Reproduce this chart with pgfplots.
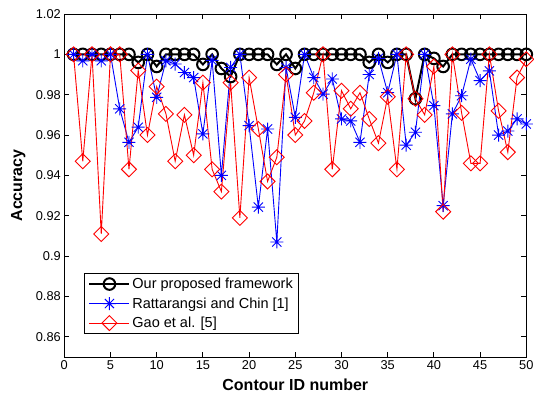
\documentclass[border=0pt]{standalone}
\usepackage{pgfplots}
\pgfplotsset{compat=1.18}
\usepackage{fontspec}
\setmainfont{Liberation Sans}
\pgfdeclareplotmark{star8}{%
  \pgfpathmoveto{\pgfqpoint{-\pgfplotmarksize}{0pt}}\pgfpathlineto{\pgfqpoint{\pgfplotmarksize}{0pt}}%
  \pgfpathmoveto{\pgfqpoint{0pt}{-\pgfplotmarksize}}\pgfpathlineto{\pgfqpoint{0pt}{\pgfplotmarksize}}%
  \pgfpathmoveto{\pgfqpoint{-0.707\pgfplotmarksize}{-0.707\pgfplotmarksize}}\pgfpathlineto{\pgfqpoint{0.707\pgfplotmarksize}{0.707\pgfplotmarksize}}%
  \pgfpathmoveto{\pgfqpoint{-0.707\pgfplotmarksize}{0.707\pgfplotmarksize}}\pgfpathlineto{\pgfqpoint{0.707\pgfplotmarksize}{-0.707\pgfplotmarksize}}%
  \pgfusepathqstroke}
\pgfplotstableread{
x y
1 1
2 1
3 1
4 1
5 1
6 1
7 1
8 0.996
9 1
10 0.994
11 1
12 1
13 1
14 1
15 0.995
16 1
17 0.993
18 0.989
19 1
20 1
21 1
22 1
23 0.995
24 1
25 0.993
26 1
27 1
28 1
29 1
30 1
31 1
32 1
33 0.996
34 1
35 0.996
36 1
37 1
38 0.978
39 1
40 0.998
41 0.994
42 1
43 1
44 1
45 1
46 1
47 1
48 1
49 1
50 1
}\ours
\pgfplotstableread{
x y
1 1
2 0.9968
3 1
4 0.9968
5 1
6 0.973
7 0.9564
8 0.9639
9 1
10 0.9787
11 0.9968
12 0.9952
13 0.991
14 0.9885
15 0.9606
16 0.997
17 0.940
18 0.9935
19 1
20 0.9647
21 0.9243
22 0.963
23 0.907
24 0.9935
25 0.9688
26 1
27 0.9885
28 0.9803
29 0.9878
30 0.968
31 0.967
32 0.9564
33 0.990
34 0.998
35 0.981
36 1
37 0.955
38 0.9614
39 1
40 0.9746
41 0.925
42 0.9705
43 0.9795
44 0.9976
45 0.987
46 0.9918
47 0.960
48 0.962
49 0.968
50 0.9655
}\ratta
\pgfplotstableread{
x y
1 1
2 0.947
3 1
4 0.911
5 1
6 1
7 0.943
8 0.992
9 0.960
10 0.984
11 0.9705
12 0.947
13 0.970
14 0.950
15 0.986
16 0.943
17 0.932
18 0.986
19 0.919
20 0.9885
21 0.963
22 0.937
23 0.949
24 0.990
25 0.960
26 0.967
27 0.981
28 1
29 0.943
30 0.982
31 0.973
32 0.981
33 0.968
34 0.956
35 0.979
36 0.943
37 1
38 0.978
39 0.970
40 0.994
41 0.922
42 1
43 0.971
44 0.946
45 0.946
46 1
47 0.972
48 0.9515
49 0.9885
50 0.9976
}\gao
\begin{document}
\begin{tikzpicture}
\useasboundingbox (-64.3pt,-39pt) rectangle (469.7pt,357pt);
\begin{axis}[
  scale only axis,
  width=462pt, height=343pt,
  xmin=0, xmax=50, ymin=0.85, ymax=1.02,
  xtick={0,5,...,50},
  ytick={0.86,0.88,0.9,0.92,0.94,0.96,0.98,1,1.02},
  yticklabels={0.86,0.88,0.9,0.92,0.94,0.96,0.98,1,1.02},
  scaled y ticks=false,
  /pgf/number format/assume math mode=true,
  tick label style={font=\fontsize{12.8}{14}\selectfont},
  major tick length=5pt,
  tick align=inside,
  axis line style={line width=0.9pt},
  every tick/.style={line width=0.9pt, black},
  xlabel={Contour ID number},
  ylabel={Accuracy},
  label style={font=\fontsize{16}{18}\selectfont\bfseries},
  xlabel style={at={(axis description cs:0.5,-0.0816)}, anchor=center},
  ylabel style={at={(axis description cs:-0.0996,0.5)}, anchor=center},
  legend style={at={(axis description cs:0.0426,0.067)}, anchor=south west,
    draw=black, line width=0.9pt, font=\fontsize{14.5}{16.5}\selectfont,
    row sep=3.5pt, inner xsep=4pt, inner ysep=2.5pt},
  legend cell align=left,
  legend image code/.code={\draw[mark repeat=2,mark phase=2] plot coordinates {(0pt,0pt) (20pt,0pt) (40pt,0pt)};},
]
\addplot[black, line width=2pt, mark=o, mark size=5.8pt, mark options={line width=2pt}] table[x=x,y=y] {\ours};
\addlegendentry{Our proposed framework}
\addplot[blue, line width=0.9pt, mark=star8, mark size=6.5pt, mark options={line width=0.9pt}] table[x=x,y=y] {\ratta};
\addlegendentry{Rattarangsi and Chin [1]}
\addplot[red, line width=0.9pt, mark=square, mark size=5.3pt, mark options={rotate=45, line width=0.9pt}] table[x=x,y=y] {\gao};
\addlegendentry{Gao et al. [5]}
\end{axis}
\end{tikzpicture}
\end{document}
